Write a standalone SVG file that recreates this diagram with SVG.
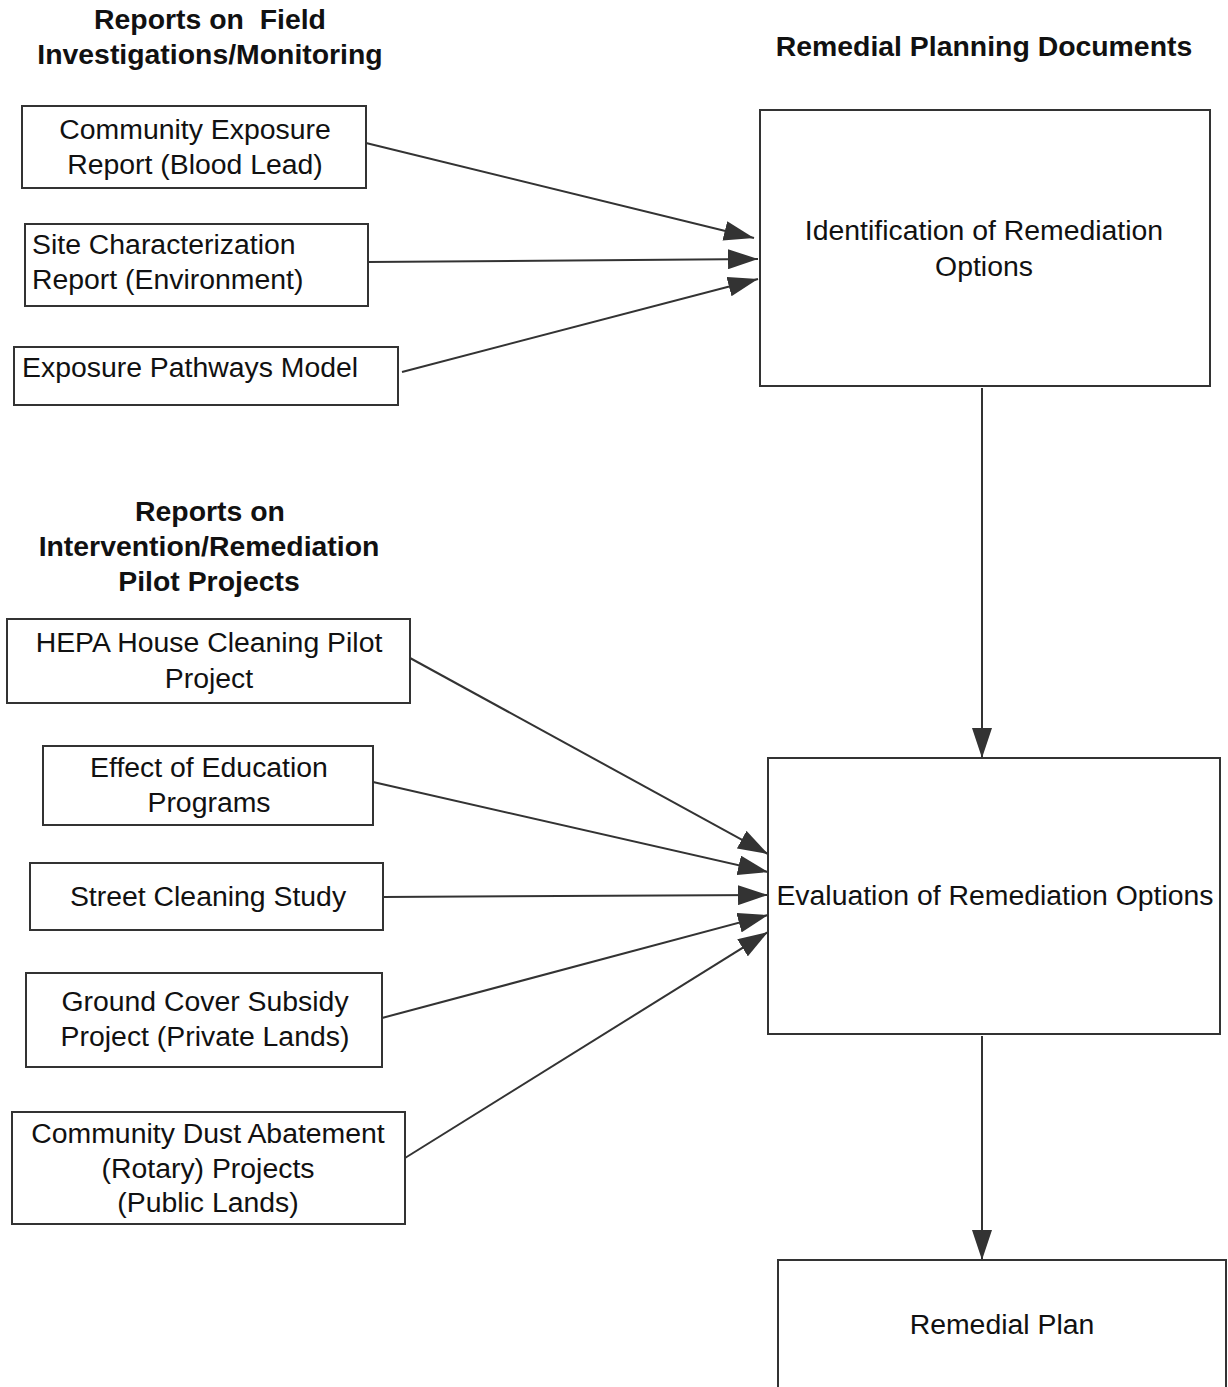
<svg xmlns="http://www.w3.org/2000/svg" width="1228" height="1387" viewBox="0 0 1228 1387">
<style>
.box{fill:#fff;stroke:#333;stroke-width:2}
.t{font-family:"Liberation Sans",Arial,sans-serif;font-size:28.4px;fill:#111}
.c{text-anchor:middle}
.h{font-family:"Liberation Sans",Arial,sans-serif;font-size:28.4px;font-weight:bold;fill:#111;text-anchor:middle;white-space:pre}
.ln{stroke:#333;stroke-width:2;fill:none;marker-end:url(#ah)}
</style>
<defs>
<marker id="ah" markerUnits="userSpaceOnUse" markerWidth="30" markerHeight="20" refX="30" refY="10" orient="auto">
<path d="M0,0 L30,10 L0,20 z" fill="#333"/>
</marker>
</defs>
<rect width="1228" height="1387" fill="#fff"/>
<g id="headings">
<text class="h" x="210" y="29" xml:space="preserve">Reports on  Field</text>
<text class="h" x="210" y="64">Investigations/Monitoring</text>
<text class="h" x="984" y="56">Remedial Planning Documents</text>
<text class="h" x="210" y="521">Reports on</text>
<text class="h" x="209" y="556">Intervention/Remediation</text>
<text class="h" x="209" y="591">Pilot Projects</text>
</g>
<g id="connectors">
<line class="ln" x1="366" y1="143" x2="754" y2="238"/>
<line class="ln" x1="368" y1="262" x2="758" y2="259"/>
<line class="ln" x1="402" y1="372" x2="758" y2="279"/>
<line class="ln" x1="982" y1="388" x2="982" y2="758"/>
<line class="ln" x1="410" y1="658" x2="768" y2="854"/>
<line class="ln" x1="373" y1="782" x2="768" y2="872"/>
<line class="ln" x1="383" y1="897" x2="768" y2="895"/>
<line class="ln" x1="382" y1="1018" x2="768" y2="915"/>
<line class="ln" x1="405" y1="1158" x2="768" y2="932"/>
<line class="ln" x1="982" y1="1036" x2="982" y2="1260"/>
</g>
<g id="n1"><rect class="box" x="22" y="106" width="344" height="82"/>
<text class="t c" x="195" y="139">Community Exposure</text>
<text class="t c" x="195" y="174">Report (Blood Lead)</text></g>
<g id="n2"><rect class="box" x="25" y="224" width="343" height="82"/>
<text class="t" x="32" y="254">Site Characterization</text>
<text class="t" x="32" y="289">Report (Environment)</text></g>
<g id="n3"><rect class="box" x="14" y="347" width="384" height="58"/>
<text class="t" x="22" y="377">Exposure Pathways Model</text></g>
<g id="n4"><rect class="box" x="760" y="110" width="450" height="276"/>
<text class="t c" x="984" y="240">Identification of Remediation</text>
<text class="t c" x="984" y="276">Options</text></g>
<g id="n5"><rect class="box" x="7" y="619" width="403" height="84"/>
<text class="t c" x="209" y="652">HEPA House Cleaning Pilot</text>
<text class="t c" x="209" y="688">Project</text></g>
<g id="n6"><rect class="box" x="43" y="746" width="330" height="79"/>
<text class="t c" x="209" y="777">Effect of Education</text>
<text class="t c" x="209" y="812">Programs</text></g>
<g id="n7"><rect class="box" x="30" y="863" width="353" height="67"/>
<text class="t c" x="208" y="906">Street Cleaning Study</text></g>
<g id="n8"><rect class="box" x="26" y="973" width="356" height="94"/>
<text class="t c" x="205" y="1011">Ground Cover Subsidy</text>
<text class="t c" x="205" y="1046">Project (Private Lands)</text></g>
<g id="n9"><rect class="box" x="12" y="1112" width="393" height="112"/>
<text class="t c" x="208" y="1143">Community Dust Abatement</text>
<text class="t c" x="208" y="1178">(Rotary) Projects</text>
<text class="t c" x="208" y="1212">(Public Lands)</text></g>
<g id="n10"><rect class="box" x="768" y="758" width="452" height="276"/>
<text class="t c" x="995" y="905">Evaluation of Remediation Options</text></g>
<g id="n11"><rect class="box" x="778" y="1260" width="448" height="150"/>
<text class="t c" x="1002" y="1334">Remedial Plan</text></g>
</svg>
